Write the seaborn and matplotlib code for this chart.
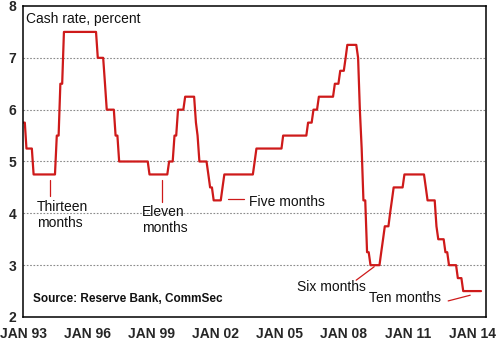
import matplotlib
matplotlib.use("Agg")
import matplotlib.pyplot as plt
import matplotlib.dates as mdates
import seaborn as sns
import pandas as pd

# Corner points of the monthly cash-rate series (month, percent)
months = ["1993-01", "1993-02", "1993-03", "1993-06", "1993-07", "1994-07", "1994-08",
          "1994-09", "1994-10", "1994-11", "1994-12", "1996-06", "1996-07", "1996-10",
          "1996-11", "1996-12", "1997-04", "1997-05", "1997-06", "1997-07", "1998-11",
          "1998-12", "1999-10", "1999-11", "2000-01", "2000-02", "2000-03", "2000-04",
          "2000-07", "2000-08", "2001-01", "2001-02", "2001-03", "2001-04", "2001-08",
          "2001-09", "2001-10", "2001-11", "2001-12", "2002-04", "2002-05", "2002-06",
          "2003-10", "2003-11", "2003-12", "2005-02", "2005-03", "2006-04", "2006-05",
          "2006-07", "2006-08", "2006-10", "2006-11", "2007-07", "2007-08", "2007-10",
          "2007-11", "2008-01", "2008-02", "2008-03", "2008-08", "2008-09", "2008-10",
          "2008-11", "2008-12", "2009-01", "2009-02", "2009-03", "2009-04", "2009-09",
          "2009-10", "2009-11", "2009-12", "2010-02", "2010-03", "2010-04", "2010-05",
          "2010-10", "2010-11", "2011-10", "2011-11", "2011-12", "2012-04", "2012-05",
          "2012-06", "2012-09", "2012-10", "2012-11", "2012-12", "2013-04", "2013-05",
          "2013-07", "2013-08", "2014-06"]
cash_rate = [5.75, 5.75, 5.25, 5.25, 4.75, 4.75, 5.5,
             5.5, 6.5, 6.5, 7.5, 7.5, 7.0, 7.0,
             6.5, 6.0, 6.0, 5.5, 5.5, 5.0, 5.0,
             4.75, 4.75, 5.0, 5.0, 5.5, 5.5, 6.0,
             6.0, 6.25, 6.25, 5.75, 5.5, 5.0, 5.0,
             4.75, 4.5, 4.5, 4.25, 4.25, 4.5, 4.75,
             4.75, 5.0, 5.25, 5.25, 5.5, 5.5, 5.75,
             5.75, 6.0, 6.0, 6.25, 6.25, 6.5, 6.5,
             6.75, 6.75, 7.0, 7.25, 7.25, 7.0, 6.0,
             5.25, 4.25, 4.25, 3.25, 3.25, 3.0, 3.0,
             3.25, 3.5, 3.75, 3.75, 4.0, 4.25, 4.5,
             4.5, 4.75, 4.75, 4.5, 4.25, 4.25, 3.75,
             3.5, 3.5, 3.25, 3.25, 3.0, 3.0, 2.75,
             2.75, 2.5, 2.5]

tick_years = [1993, 1996, 1999, 2002, 2005, 2008, 2011, 2014]
tick_labels = ["JAN 93", "JAN 96", "JAN 99", "JAN 02", "JAN 05", "JAN 08", "JAN 11", "JAN 14"]
y_ticks = [2, 3, 4, 5, 6, 7, 8]

df = pd.DataFrame({"date": pd.to_datetime(months), "rate": cash_rate})

sns.set_style("white")
FAM = ["Liberation Sans", "DejaVu Sans"]
plt.rcParams["font.family"] = FAM

fig = plt.figure(figsize=(5.02, 3.45), dpi=100)
ax = fig.add_axes([23 / 502, 1 - 317 / 345, (486 - 23) / 502, (317 - 6) / 345])

RED = "#CE1A1A"
sns.lineplot(data=df, x="date", y="rate", ax=ax, color=RED, linewidth=1.6)

ax.set_xlim(pd.Timestamp("1993-01-01"), pd.Timestamp("2014-08-25"))
ax.set_ylim(2, 8)
ax.set_xlabel("")
ax.set_ylabel("")

ax.set_xticks([pd.Timestamp(f"{y}-01-01") for y in tick_years])
ax.set_xticklabels(tick_labels, fontsize=10, fontweight="bold")
ax.xaxis.set_minor_locator(mdates.MonthLocator())
ax.tick_params(axis="x", which="major", direction="in", length=4, width=0.6,
               color="#555555", pad=7.5)
ax.tick_params(axis="x", which="minor", direction="in", length=3, width=0.6,
               color="#555555")
ax.set_yticks(y_ticks)
ax.set_yticklabels([str(v) for v in y_ticks], fontsize=10, fontweight="bold")
ax.tick_params(axis="y", length=0, pad=5)

for v in [3, 4, 5, 6, 7]:
    ax.axhline(v, color="#8a8a8a", linewidth=0.8, linestyle=(0, (1.5, 1.5)), zorder=0)

for s in ax.spines.values():
    s.set_color("black")
    s.set_linewidth(1.1)

def d(s):
    return pd.Timestamp(s)

txt = dict(fontsize=10, color="#111111", family=FAM)
ax.text(d("1993-02-20"), 7.75, "Cash rate, percent", ha="left", va="center", **txt)
ax.text(d("1993-08-25"), 3.97, "Thirteen\nmonths", ha="left", va="center", linespacing=1.2, **txt)
ax.text(d("1998-07-25"), 3.87, "Eleven\nmonths", ha="left", va="center", linespacing=1.2, **txt)
ax.text(d("2003-07-27"), 4.22, "Five months", ha="left", va="center", **txt)
ax.text(d("2005-10-27"), 2.58, "Six months", ha="left", va="center", **txt)
ax.text(d("2009-03-06"), 2.37, "Ten months", ha="left", va="center", **txt)
ax.text(d("1993-06-15"), 2.35, "Source: Reserve Bank, CommSec", ha="left", va="center",
        fontsize=8.5, fontweight="bold", color="#111111", family=FAM)

LW = 0.9
ax.plot([d("1994-04-05"), d("1994-04-05")], [4.64, 4.34], color=RED, linewidth=LW)
ax.plot([d("1999-07-01"), d("1999-07-01")], [4.64, 4.22], color=RED, linewidth=LW)
ax.plot([d("2002-08-03"), d("2003-05-05")], [4.28, 4.28], color=RED, linewidth=LW)
ax.plot([d("2008-07-30"), d("2009-06-03")], [2.71, 2.97], color=RED, linewidth=LW)
ax.plot([d("2012-11-17"), d("2013-11-28")], [2.31, 2.42], color=RED, linewidth=LW)

fig.savefig("out.png", dpi=100)
